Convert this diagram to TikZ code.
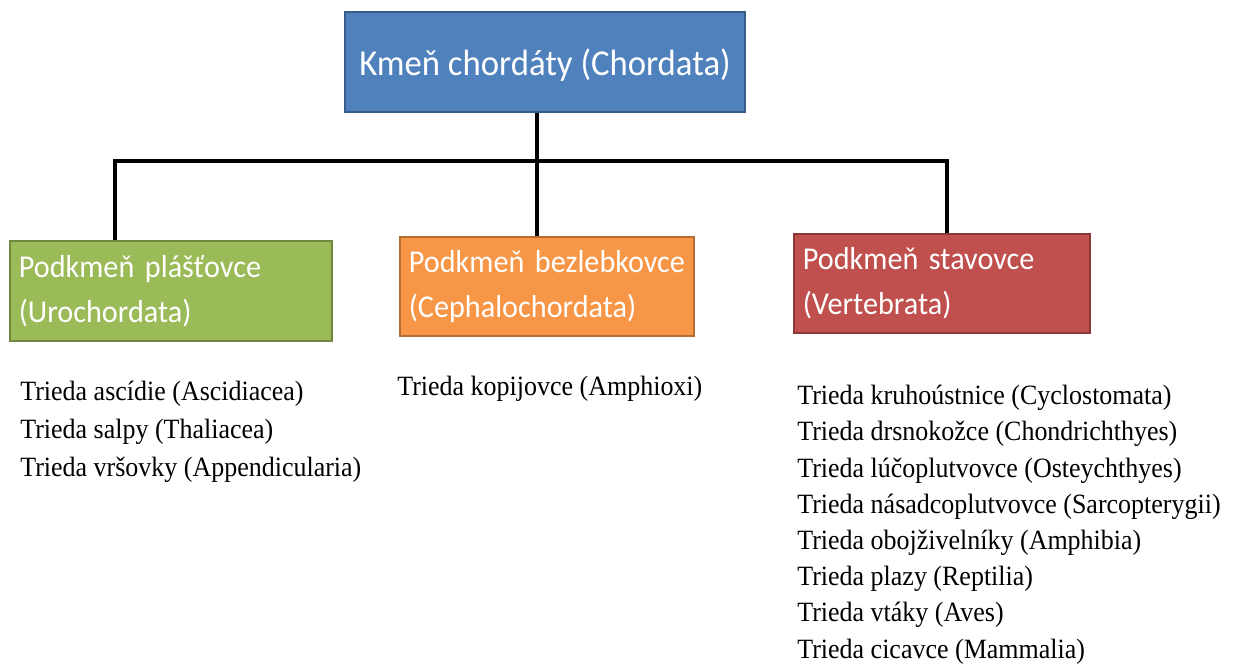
\documentclass[tikz,border=0pt]{standalone}
\usepackage{fontspec}
\setmainfont[FakeStretch=0.93]{Liberation Serif}
\newfontfamily\boxfont[FakeStretch=0.95]{Carlito}
\usepackage{tikz}

\definecolor{kmenblue}{HTML}{4F81BD}
\definecolor{kmenline}{HTML}{385D8A}
\definecolor{plastgreen}{HTML}{9BBB59}
\definecolor{plastline}{HTML}{71893F}
\definecolor{bezorange}{HTML}{F79646}
\definecolor{bezline}{HTML}{B66D31}
\definecolor{stavred}{HTML}{C0504D}
\definecolor{stavline}{HTML}{8C3836}

\begin{document}
\begin{tikzpicture}[x=0.02cm,y=-0.02cm,
	taxbox/.style={rectangle,line width=1pt,text=white,inner xsep=5pt,inner ysep=0pt,
		font=\boxfont\fontsize{18.1}{25.5}\selectfont,align=left,minimum height=2cm},
	classlist/.style={anchor=north west,inner sep=0,align=left,
		font=\fontsize{15.9}{20.6}\selectfont},
	conn/.style={line width=2.6pt}]
	\useasboundingbox (0,0) rectangle (1236,670);
	\node[rectangle,draw=kmenline,fill=kmenblue,line width=1pt,text=white,
		minimum width=8cm,minimum height=2cm,text depth=0pt,
		font=\boxfont\fontsize{20.8}{24}\selectfont] (kmen) at (545,62) {Kmeň chordáty (Chordata)};
	\node[taxbox,draw=plastline,fill=plastgreen,minimum width=6.44cm,text width=6.44cm-10pt] (plast) at (171,291) {Podkmeň plášťovce\\(Urochordata)};
	\node[taxbox,draw=bezline,fill=bezorange,minimum width=5.88cm,text width=5.88cm-10pt,minimum height=1.98cm] (bez) at (547,286.5) {Podkmeň bezlebkovce\\(Cephalochordata)};
	\node[taxbox,draw=stavline,fill=stavred,minimum width=5.92cm,text width=5.92cm-10pt,minimum height=1.98cm] (stav) at (942,283.5) {Podkmeň stavovce\\(Vertebrata)};
	% spojnice
	\coordinate (split) at (537,161);
	\coordinate (jplast) at (115,161);
	\coordinate (jstav) at (947,161);
	\draw[conn] (kmen.south -| split) -- (split);
	\draw[conn] (jplast |- plast.north) -- (jplast) -- (jstav) -- (jstav |- stav.north);
	\draw[conn] (split) -- (split |- bez.north);
	% triedy
	\node[classlist,font=\fontsize{15.9}{21.5}\selectfont] (plasttriedy) at (20,381) {Trieda ascídie (Ascidiacea)\\Trieda salpy (Thaliacea)\\Trieda vršovky (Appendicularia)};
	\node[classlist] (beztriedy) at (397,376) {Trieda kopijovce (Amphioxi)};
	\node[classlist] (stavtriedy) at (797,385) {Trieda kruhoústnice (Cyclostomata)\\Trieda drsnokožce (Chondrichthyes)\\Trieda lúčoplutvovce (Osteychthyes)\\Trieda násadcoplutvovce (Sarcopterygii)\\Trieda obojživelníky (Amphibia)\\Trieda plazy (Reptilia)\\Trieda vtáky (Aves)\\Trieda cicavce (Mammalia)};
\end{tikzpicture}
\end{document}
